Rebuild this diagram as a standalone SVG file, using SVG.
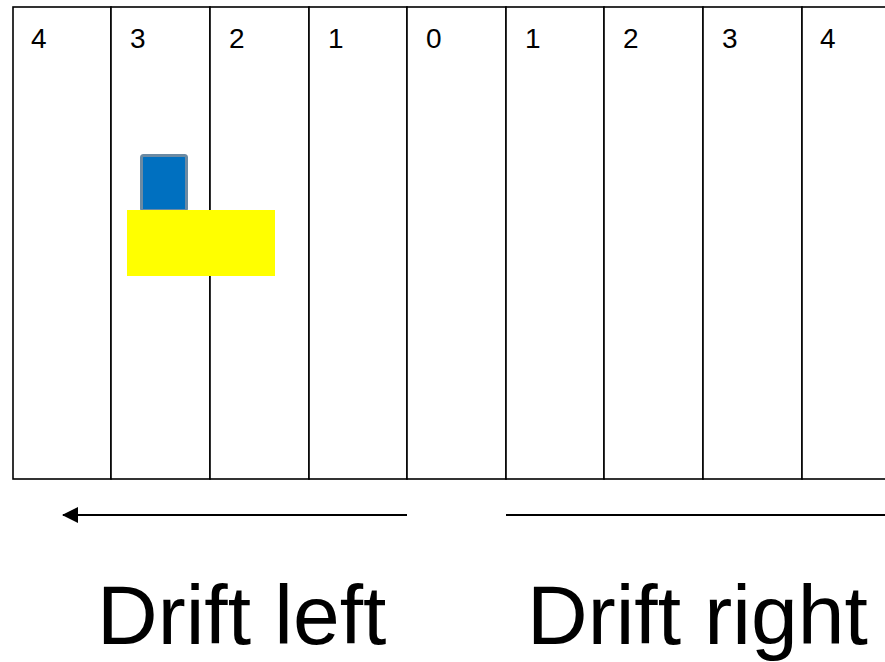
<svg xmlns="http://www.w3.org/2000/svg" width="885" height="662" viewBox="0 0 885 662">
  <style>
    .cell { fill: #ffffff; stroke: #000000; stroke-width: 1.6; }
    .num { font-family: "Liberation Sans", Arial, sans-serif; font-size: 28px; fill: #000000; }
    .big { font-family: "Liberation Sans", Arial, sans-serif; font-size: 84px; fill: #000000; }
    .arrow { stroke: #000000; stroke-width: 2.2; fill: none; }
  </style>
  <defs>
    <marker id="head" viewBox="0 0 16 16" refX="15" refY="8" markerWidth="16" markerHeight="16" markerUnits="userSpaceOnUse" orient="auto">
      <path d="M0,0 L16,8 L0,16 Z" fill="#000000"/>
    </marker>
  </defs>

  <g id="cells">
    <g id="cell-l4"><rect class="cell" x="13" y="7" width="98" height="472"/><text class="num" x="31" y="48">4</text></g>
    <g id="cell-l3"><rect class="cell" x="111" y="7" width="99" height="472"/><text class="num" x="130" y="48">3</text></g>
    <g id="cell-l2"><rect class="cell" x="210" y="7" width="99" height="472"/><text class="num" x="229" y="48">2</text></g>
    <g id="cell-l1"><rect class="cell" x="309" y="7" width="98" height="472"/><text class="num" x="328" y="48">1</text></g>
    <g id="cell-0"><rect class="cell" x="407" y="7" width="99" height="472"/><text class="num" x="426" y="48">0</text></g>
    <g id="cell-r1"><rect class="cell" x="506" y="7" width="98" height="472"/><text class="num" x="525" y="48">1</text></g>
    <g id="cell-r2"><rect class="cell" x="604" y="7" width="99" height="472"/><text class="num" x="623" y="48">2</text></g>
    <g id="cell-r3"><rect class="cell" x="703" y="7" width="99" height="472"/><text class="num" x="722" y="48">3</text></g>
    <g id="cell-r4"><rect class="cell" x="802" y="7" width="99" height="472"/><text class="num" x="820" y="48">4</text></g>
  </g>

  <g id="blue-block">
    <rect x="141.5" y="155.5" width="45" height="55" rx="2" fill="#0070c0" stroke="#6b8aa3" stroke-width="3"/>
  </g>
  <g id="yellow-block">
    <rect x="127" y="210" width="148" height="66" fill="#ffff00"/>
  </g>

  <g id="connectors">
    <line class="arrow" x1="407" y1="515" x2="63" y2="515" marker-end="url(#head)"/>
    <line class="arrow" x1="506" y1="515" x2="900" y2="515" marker-end="url(#head)"/>
  </g>

  <g id="label-left"><text class="big" x="97" y="644">Drift left</text></g>
  <g id="label-right"><text class="big" x="527" y="644">Drift right</text></g>
</svg>
